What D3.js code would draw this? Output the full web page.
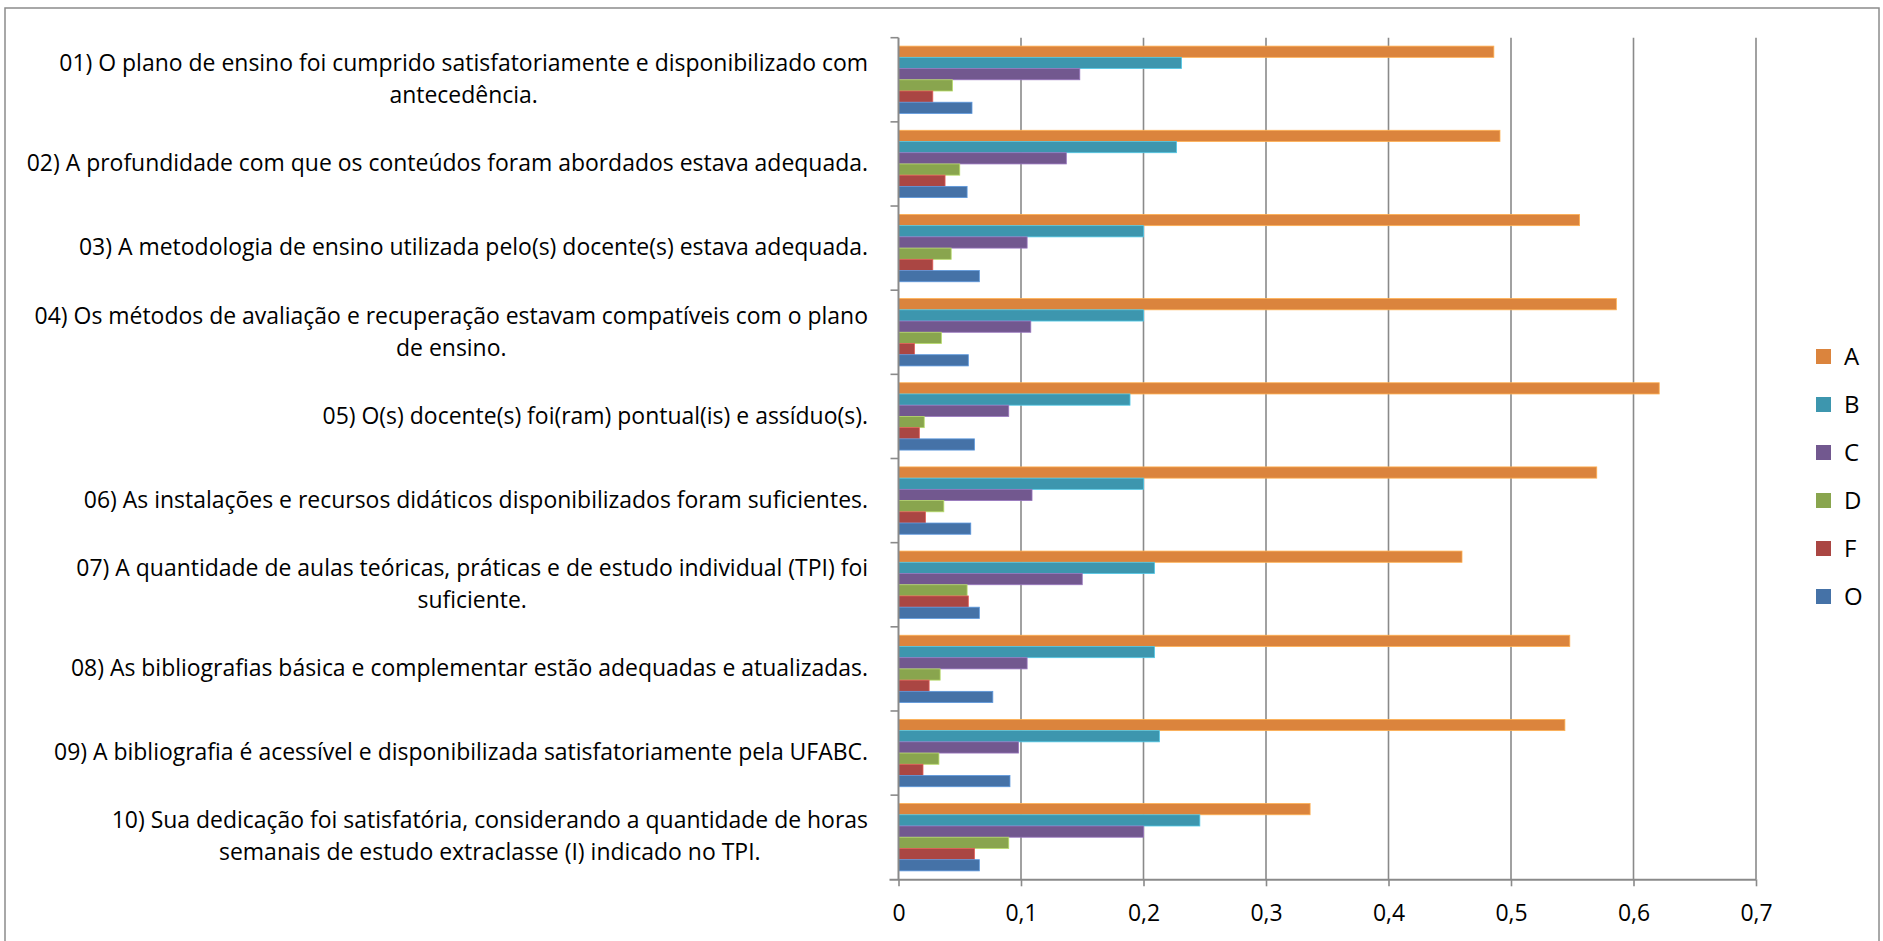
<!DOCTYPE html>
<html>
<head>
<meta charset="utf-8">
<script src="https://cdn.jsdelivr.net/npm/d3@7"></script>
<style>
  html, body { margin: 0; padding: 0; background: #fff; }
  svg { display: block; }
  text { font-family: "Open Sans", Lato, sans-serif; fill: #000; }
</style>
</head>
<body>
<svg id="chart" width="1883" height="941"></svg>
<script>
// ---- data ----
const categories = [
  "01) O plano de ensino foi cumprido satisfatoriamente e disponibilizado com\nantecedência.",
  "02) A profundidade com que os conteúdos foram abordados estava adequada.",
  "03) A metodologia de ensino utilizada pelo(s) docente(s) estava adequada.",
  "04) Os métodos de avaliação e recuperação estavam compatíveis com o plano\nde ensino.",
  "05) O(s) docente(s) foi(ram) pontual(is) e assíduo(s).",
  "06) As instalações e recursos didáticos disponibilizados foram suficientes.",
  "07) A quantidade de aulas teóricas, práticas e de estudo individual (TPI) foi\nsuficiente.",
  "08) As bibliografias básica e complementar estão adequadas e atualizadas.",
  "09) A bibliografia é acessível e disponibilizada satisfatoriamente pela UFABC.",
  "10) Sua dedicação foi satisfatória, considerando a quantidade de horas\nsemanais de estudo extraclasse (I) indicado no TPI."
];
const seriesNames = ["A", "B", "C", "D", "F", "O"];
const valuesA = [0.486, 0.491, 0.556, 0.586, 0.621, 0.570, 0.460, 0.548, 0.544, 0.336];
const valuesB = [0.231, 0.227, 0.200, 0.200, 0.189, 0.200, 0.209, 0.209, 0.213, 0.246];
const valuesC = [0.148, 0.137, 0.105, 0.108, 0.090, 0.109, 0.150, 0.105, 0.098, 0.200];
const valuesD = [0.044, 0.050, 0.043, 0.035, 0.021, 0.037, 0.056, 0.034, 0.033, 0.090];
const valuesF = [0.028, 0.038, 0.028, 0.013, 0.017, 0.022, 0.057, 0.025, 0.020, 0.062];
const valuesO = [0.060, 0.056, 0.066, 0.057, 0.062, 0.059, 0.066, 0.077, 0.091, 0.066];
const seriesColors = ["#DB843D", "#3D96AE", "#72588F", "#89A54E", "#AA4643", "#4572A7"];
const xTickValues = [0, 0.1, 0.2, 0.3, 0.4, 0.5, 0.6, 0.7];
const xTickLabels = ["0", "0,1", "0,2", "0,3", "0,4", "0,5", "0,6", "0,7"];

const seriesValues = [valuesA, valuesB, valuesC, valuesD, valuesF, valuesO];

// ---- layout ----
const svg = d3.select("#chart");
const plot = { left: 898.5, right: 1756, top: 37.7, bottom: 879.3 };
const gridColor = "#8a8a8a";

// fit font size so the widest label line matches the reference width (~809px)
const probe = svg.append("text").attr("font-size", 20).text(categories[0].split("\n")[0]);
const fontSize = Math.min(24, Math.max(16, 20 * 809 / probe.node().getComputedTextLength()));
probe.remove();

// outer border
svg.append("rect")
  .attr("x", 5).attr("y", 8).attr("width", 1874).attr("height", 945)
  .attr("fill", "none").attr("stroke", "#8c8c8c").attr("stroke-width", 1.5);

const x = d3.scaleLinear().domain([0, 0.7]).range([plot.left, plot.right]);
const y = d3.scaleBand().domain(categories).range([plot.top, plot.bottom]).paddingInner(0).paddingOuter(0);
const ySub = d3.scaleBand().domain(seriesNames).range([0, y.bandwidth()]).paddingInner(0).paddingOuter(0.75);

// gridlines
svg.append("g")
  .selectAll("line")
  .data(xTickValues.slice(1))
  .join("line")
  .attr("x1", d => x(d)).attr("x2", d => x(d))
  .attr("y1", plot.top).attr("y2", plot.bottom)
  .attr("stroke", gridColor).attr("stroke-width", 1.6);

// bars
const groups = svg.append("g")
  .selectAll("g")
  .data(categories)
  .join("g")
  .attr("transform", d => `translate(0,${y(d)})`);

groups.selectAll("rect")
  .data((c, i) => seriesNames.map((s, j) => ({ s, j, v: seriesValues[j][i] })))
  .join("rect")
  .attr("x", x(0))
  .attr("y", d => ySub(d.s))
  .attr("width", d => x(d.v) - x(0))
  .attr("height", ySub.bandwidth())
  .attr("fill", d => seriesColors[d.j])
  .attr("stroke", d => d3.color(seriesColors[d.j]).brighter(0.8))
  .attr("stroke-width", 0.8);

// x axis
const xAxis = d3.axisBottom(x)
  .tickValues(xTickValues)
  .tickFormat((d, i) => xTickLabels[i])
  .tickSizeInner(7).tickSizeOuter(0).tickPadding(18);
const gx = svg.append("g").attr("transform", `translate(0,${plot.bottom})`).call(xAxis);
gx.select(".domain").attr("stroke", gridColor).attr("stroke-width", 2)
  .attr("d", `M${plot.left - 9},0.5H${plot.right}`);
gx.selectAll(".tick line").attr("stroke", gridColor).attr("stroke-width", 1.6);
gx.selectAll(".tick text").attr("font-size", fontSize).attr("font-family", "Open Sans").attr("fill", "#000");

// y axis (tick marks at band boundaries)
const boundaries = categories.map(c => y(c));
svg.append("g")
  .selectAll("line")
  .data(boundaries)
  .join("line")
  .attr("x1", plot.left - 8).attr("x2", plot.left)
  .attr("y1", d => d).attr("y2", d => d)
  .attr("stroke", gridColor).attr("stroke-width", 1.6);
svg.append("line")
  .attr("x1", plot.left).attr("x2", plot.left)
  .attr("y1", plot.top).attr("y2", plot.bottom)
  .attr("stroke", gridColor).attr("stroke-width", 2);

// category labels
const labelRight = 868;
const lineHeight = 32;
const labels = svg.append("g")
  .selectAll("text")
  .data(categories)
  .join("text")
  .attr("font-size", fontSize)
  .attr("text-anchor", "middle");
labels.each(function (c) {
  const t = d3.select(this);
  const lines = c.split("\n");
  lines.forEach(ln => t.append("tspan").text(ln));
  let maxW = 0;
  t.selectAll("tspan").each(function () { maxW = Math.max(maxW, this.getComputedTextLength()); });
  const cx = labelRight - maxW / 2;
  const cy = y(c) + y.bandwidth() / 2;
  const firstBaseline = cy - (lines.length - 1) * lineHeight / 2 + fontSize * 0.36 - 1;
  t.selectAll("tspan")
    .attr("x", cx)
    .attr("y", (d, k) => firstBaseline + k * lineHeight);
});

// legend
const legend = svg.append("g")
  .selectAll("g")
  .data(seriesNames)
  .join("g")
  .attr("transform", (d, i) => `translate(1816,${356.5 + i * 48})`);
legend.append("rect")
  .attr("x", 0).attr("y", -7.5).attr("width", 15).attr("height", 15)
  .attr("fill", (d, i) => seriesColors[i]);
legend.append("text")
  .attr("x", 28).attr("y", 8)
  .attr("font-size", fontSize + 1)
  .text(d => d);
</script>
</body>
</html>
